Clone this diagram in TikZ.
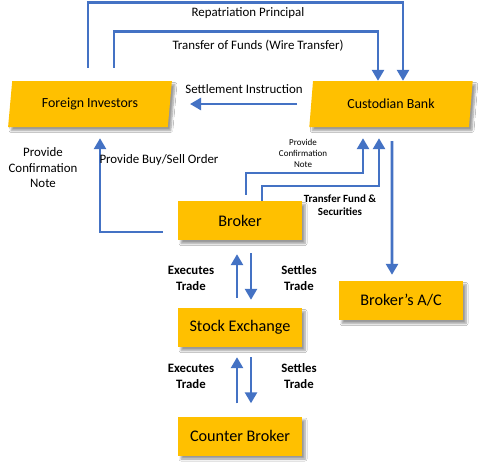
\documentclass[tikz,border=0pt]{standalone}
\usepackage{fontspec}
\setmainfont{Carlito}
\usetikzlibrary{shapes.geometric,arrows.meta,shadows.blur}
\definecolor{boxyellow}{HTML}{FFC000}
\definecolor{arrblue}{HTML}{4472C4}
\tikzset{
  box/.style={rectangle, fill=boxyellow, minimum width=124pt, minimum height=39pt, inner sep=0pt,
    font=\fontsize{16.2}{19}\selectfont,
    blur shadow={shadow xshift=3pt, shadow yshift=-3.5pt, shadow blur steps=6, shadow blur radius=2pt, shadow opacity=40}},
  para/.style={trapezium, trapezium left angle=78, trapezium right angle=102, trapezium stretches=true,
    fill=boxyellow, minimum width=164pt, minimum height=46pt, inner sep=0pt,
    font=\fontsize{13.9}{17}\selectfont,
    blur shadow={shadow xshift=3pt, shadow yshift=-3.5pt, shadow blur steps=6, shadow blur radius=2pt, shadow opacity=40}},
  arr/.style={draw=arrblue, line width=2.6pt, -{Triangle[length=11pt,width=12pt]}},
  lab/.style={font=\fontsize{12.9}{15.5}\selectfont, align=center, inner sep=0pt},
  blab/.style={font=\fontsize{12.8}{16}\selectfont\bfseries, align=center, inner sep=0pt},
  tlab/.style={font=\fontsize{11}{13}\selectfont\bfseries, align=center, inner sep=0pt},
  slab/.style={font=\fontsize{9}{11}\selectfont, align=center, inner sep=0pt},
}
\begin{document}
\begin{tikzpicture}[x=1pt,y=-1pt]
\useasboundingbox (0,0) rectangle (487,469);
\fill[white] (0,0) rectangle (487,469);

\node[para] (fi) at (90,104) {Foreign Investors};
\node[para] (cb) at (391,104) {Custodian Bank};
\node[box] (br) at (240,220.5) {Broker};
\node[box] (se) at (240,327.5) {Stock Exchange};
\node[box] (cbk) at (240,436) {Counter Broker};
\node[box] (ac) at (401,300.5) {Broker’s A/C};

% Repatriation Principal
\draw[arr] ([xshift=-2pt,yshift=13pt]fi.north) -- ++(0,-65) -| ([xshift=12pt]cb.north);
\node[lab] (l1) at (248,13) {Repatriation Principal};
% Transfer of funds
\draw[arr] ([xshift=24pt,yshift=13pt]fi.north) -- ++(0,-36) -| ([xshift=-13pt]cb.north);
\node[lab] (l2) at (258,46) {Transfer of Funds (Wire Transfer)};
% Settlement instruction
\draw[arr] ([xshift=-94pt]cb.center) -- ([xshift=100pt]fi.center);
\node[lab] (l3) at (244,89) {Settlement Instruction};
% Buy/Sell order
\draw[arr] ([xshift=-15pt,yshift=-11.5pt]br.west) -| ([xshift=10pt,yshift=-11pt]fi.south);
\node[lab] (l4) at (159,160) {Provide Buy/Sell Order};
\node[lab] (l5) at (43,168) {Provide\\Confirmation\\Note};
% Broker to custodian
\draw[arr] ([xshift=6pt,yshift=6pt]br.north) -- ++(0,-22) -| ([xshift=-28pt,yshift=-11pt]cb.south);
\node[slab] (l6) at (303,153) {Provide\\Confirmation\\Note};
\draw[arr] ([xshift=22pt]br.north) -- ++(0,-15) -| ([xshift=-12pt,yshift=-11pt]cb.south);
\node[tlab] (l7) at (340,205.5) {Transfer Fund \&\\Securities};
% Custodian to broker's A/C
\draw[arr] ([xshift=1pt,yshift=-14pt]cb.south) -- ([xshift=-9pt,yshift=6pt]ac.north);
% Broker <-> Stock exchange
\draw[arr] ([xshift=-3pt,yshift=10pt]se.north) -- ([xshift=-3pt,yshift=-14pt]br.south);
\draw[arr] ([xshift=11pt,yshift=-13pt]br.south) -- ([xshift=11pt,yshift=8pt]se.north);
\node[blab] (l8) at (191,278) {Executes\\Trade};
\node[blab] (l9) at (299,278) {Settles\\Trade};
% Stock exchange <-> counter broker
\draw[arr] ([xshift=-3pt,yshift=13pt]cbk.north) -- ([xshift=-3pt,yshift=-10pt]se.south);
\draw[arr] ([xshift=11pt,yshift=-10pt]se.south) -- ([xshift=11pt,yshift=13pt]cbk.north);
\node[blab] (l10) at (191,376) {Executes\\Trade};
\node[blab] (l11) at (299,376) {Settles\\Trade};
\end{tikzpicture}
\end{document}
